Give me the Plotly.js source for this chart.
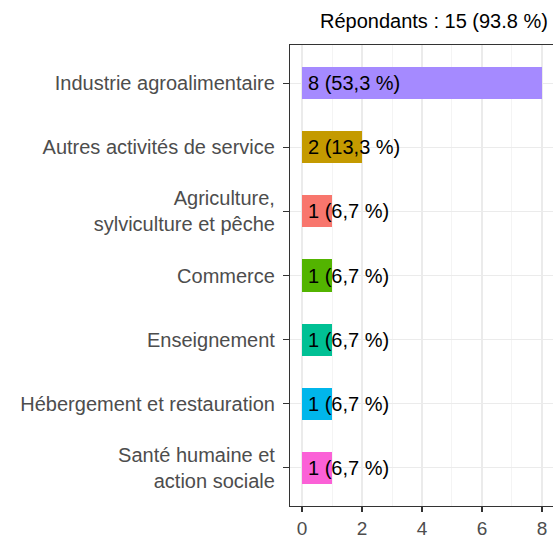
<!DOCTYPE html>
<html>
<head>
<meta charset="utf-8">
<script src="https://cdn.plot.ly/plotly-3.0.1.min.js"></script>
<style>html,body{margin:0;padding:0;background:#fff;}</style>
</head>
<body>
<div id="chart" style="width:553px;height:538px;"></div>
<script>
const categories = ["Industrie agroalimentaire", "Autres activités de service", "Agriculture,<br>sylviculture et pêche", "Commerce", "Enseignement", "Hébergement et restauration", "Santé humaine et<br>action sociale"];
const counts = [8, 2, 1, 1, 1, 1, 1];
const labels = ["8 (53,3 %)", "2 (13,3 %)", "1 (6,7 %)", "1 (6,7 %)", "1 (6,7 %)", "1 (6,7 %)", "1 (6,7 %)"];
const colors = ["#A58AFF", "#C49A00", "#F8766D", "#53B400", "#00C094", "#00B6EB", "#FB61D7"];
const titleText = "Répondants : 15 (93.8 %)";

const FONT = "Liberation Sans, Arial, sans-serif";

const trace = {
  type: "bar",
  orientation: "h",
  x: counts,
  y: categories,
  marker: {color: colors, line: {width: 0}},
  width: 0.5,
  hoverinfo: "none"
};

const annotations = categories.map((c, i) => ({
  x: 0, y: c, xref: "x", yref: "y",
  text: labels[i], showarrow: false, xanchor: "left", xshift: 4,
  font: {family: FONT, size: 20, color: "#000000"}
}));
annotations.push({
  x: 1, y: 1, xref: "paper", yref: "paper", xanchor: "right", yanchor: "middle",
  yshift: 24, xshift: -3,
  text: titleText, showarrow: false,
  font: {family: FONT, size: 20, color: "#000000"}
});

const layout = {
  width: 553, height: 538,
  margin: {l: 290, r: 0, t: 45, b: 32},
  paper_bgcolor: "#ffffff", plot_bgcolor: "#ffffff",
  showlegend: false,
  bargap: 0,
  font: {family: FONT},
  xaxis: {
    range: [-0.4, 8.367],
    tickvals: [0, 2, 4, 6, 8],
    showgrid: true, gridcolor: "#EBEBEB", gridwidth: 1.1,
    minor: {tickvals: [1, 3, 5, 7], showgrid: true, gridcolor: "#EBEBEB", gridwidth: 0.55, ticks: ""},
    zeroline: false,
    showline: true, linecolor: "#333333", linewidth: 1.1, mirror: true,
    ticks: "outside", ticklen: 5, tickwidth: 1.1, tickcolor: "#333333",
    tickfont: {size: 19, color: "#4D4D4D"}
  },
  yaxis: {
    type: "category",
    categoryorder: "array", categoryarray: categories,
    range: [6.6, -0.6],
    showgrid: true, gridcolor: "#EBEBEB", gridwidth: 1.1,
    zeroline: false,
    showline: true, linecolor: "#333333", linewidth: 1.1,
    ticks: "outside", ticklen: 6, tickwidth: 1.1, tickcolor: "#333333",
    ticklabelstandoff: 4,
    tickfont: {size: 20, color: "#4D4D4D"}
  },
  annotations: annotations
};

Plotly.newPlot("chart", [trace], layout, {displayModeBar: false, staticPlot: true});
</script>
</body>
</html>
